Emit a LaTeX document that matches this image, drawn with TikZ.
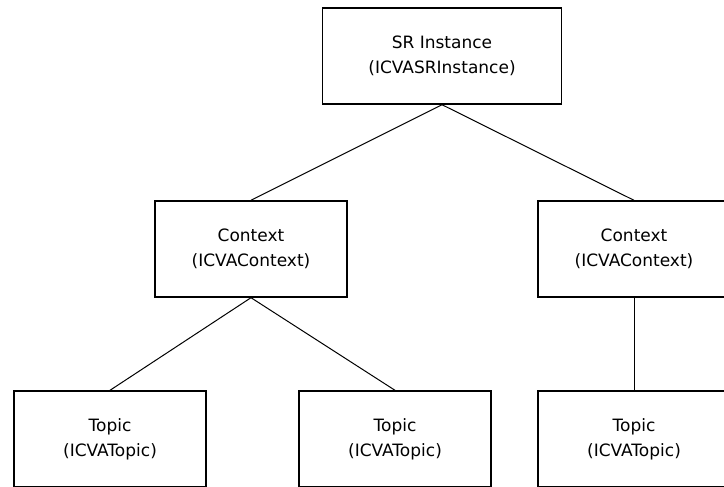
\documentclass[tikz,border=0pt]{standalone}
\usepackage{fontspec}
\setmainfont{DejaVu Sans}
\usetikzlibrary{positioning}

\begin{document}
\begin{tikzpicture}[x=1pt,y=-1pt,node distance=190pt,on grid]
       \tikzstyle{block}=[draw,line width=1.4pt,minimum width=192pt,minimum height=96pt,
                          inner sep=0pt,align=center,font=\fontsize{17}{25}\selectfont]
       \tikzstyle{link}=[line width=1pt]

       \useasboundingbox (0,0) rectangle (724,487);
       \clip (0,0) rectangle (724,487);

       \node[block, minimum width=239pt] (sr) at (442,56) {SR Instance\\(ICVASRInstance)};
       \node[block] (ctx_l) at (251,249) {Context\\(ICVAContext)};
       \node[block] (ctx_r) at (634,249) {Context\\(ICVAContext)};
       \node[block] (topic_1) at (110,439) {Topic\\(ICVATopic)};
       \node[block] (topic_2) at (395,439) {Topic\\(ICVATopic)};
       \node[block] (topic_3) [below =of ctx_r] {Topic\\(ICVATopic)};

       \draw[link] (sr.south) -- (ctx_l.north);
       \draw[link] (sr.south) -- (ctx_r.north);
       \draw[link] (ctx_l.south) -- (topic_1.north);
       \draw[link] (ctx_l.south) -- (topic_2.north);
       \draw[link] (ctx_r.south) -- (topic_3.north);

     \end{tikzpicture}
\end{document}
